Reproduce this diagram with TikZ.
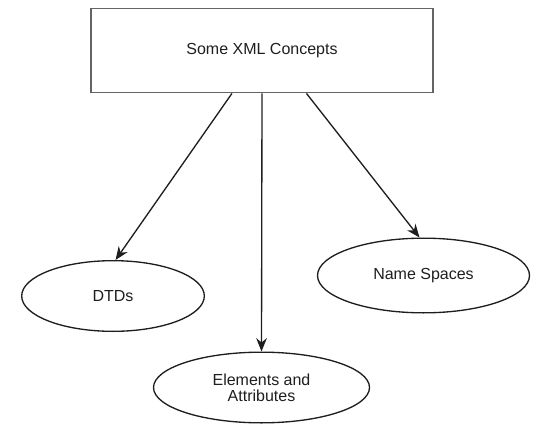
\documentclass[tikz,border=0pt]{standalone}
\usepackage{fontspec}
\setmainfont{Liberation Sans}
\usetikzlibrary{shapes.geometric,arrows.meta}
\definecolor{boxgray}{RGB}{100,100,100}
\definecolor{inkgray}{RGB}{30,30,30}
\tikzstyle{topbox} = [draw=boxgray,line width=1.4pt,minimum width=257pt,minimum height=63pt,
    inner sep=0pt,font=\fontsize{12}{12}\selectfont,text=inkgray]
\tikzstyle{idea} = [ellipse,draw=inkgray,line width=1pt,inner sep=0pt,align=center,
    font=\fontsize{12}{12}\selectfont,text=inkgray]
\tikzstyle{link} = [draw=inkgray,line width=1pt,-{Stealth[length=10pt,width=8pt]}]

\begin{document}
\begin{tikzpicture}[x=0.75pt,y=-0.75pt]
    \useasboundingbox (0,0) rectangle (534,424);

	\node(concepts) at (262,50.5) [topbox] {Some XML Concepts};

	\node(dtds) at (113,296) [idea,minimum width=137pt,minimum height=53pt] {DTDs};
	\node(elements) at (261.5,387.5) [idea,minimum width=162pt,minimum height=53pt] {Elements and\\Attributes};
	\node(spaces) at (423.5,275.5) [idea,minimum width=159pt,minimum height=56pt] {Name Spaces};

	\draw[link] (concepts.235.7) -- (dtds.86);
	\draw[link] (concepts.south) -- (elements.north);
	\draw[link] (concepts.316.6) -- (spaces.96);

\end{tikzpicture}
\end{document}
